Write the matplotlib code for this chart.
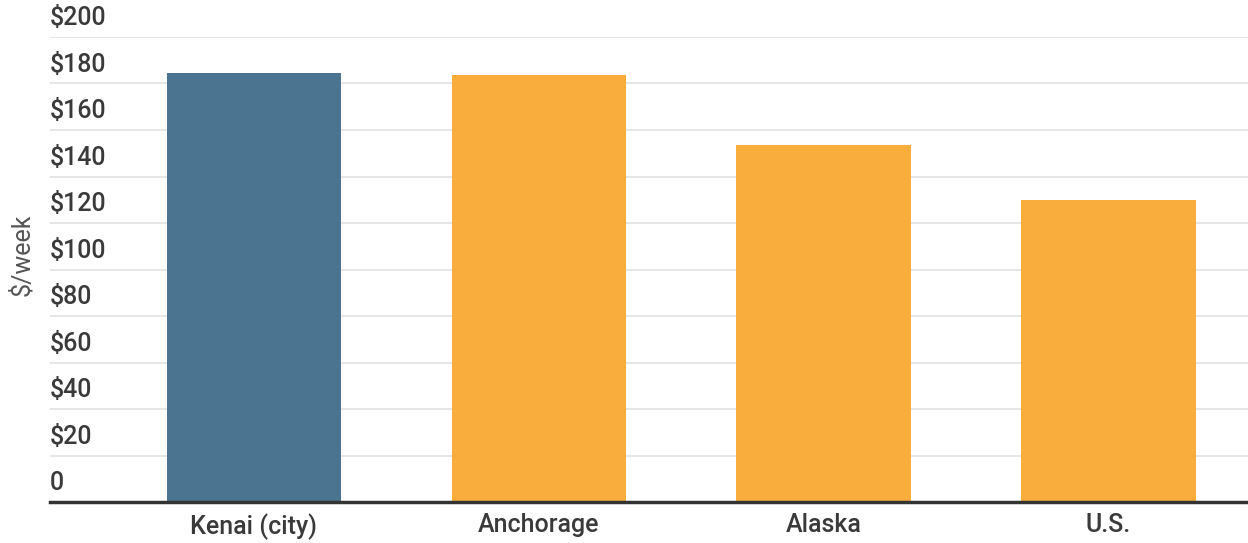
import matplotlib.pyplot as plt

# data
places = ['Kenai (city)', 'Anchorage', 'Alaska', 'U.S.']
cost = [184.5, 183.8, 153.5, 130.0]
colors = ['#4b7490', '#f8ad3c', '#f8ad3c', '#f8ad3c']
yticks = [0, 20, 40, 60, 80, 100, 120, 140, 160, 180, 200]

plt.rcParams['font.family'] = ['Roboto', 'DejaVu Sans']

W, H = 1248, 543
fig = plt.figure(figsize=(W / 100, H / 100), dpi=100)
ax = fig.add_axes([50 / W, (H - 502) / H, 1 - 50 / W, (502 - 37) / H])

x = range(len(places))
ax.bar(x, cost, width=0.612, color=colors, zorder=2)

ax.set_xlim(-0.716, 3.49)
ax.set_ylim(0, 200)

# gridlines + labels sitting above them
for v in yticks:
    if v > 0:
        ax.axhline(v, color='#e2e2e2', lw=1.2, zorder=1)
    lab = '0' if v == 0 else f'${v}'
    ax.text(0, v + 3, lab, transform=ax.get_yaxis_transform(), ha='left', va='bottom',
            fontsize=18, fontweight='medium', color='#3a3a3a', zorder=3)

ax.axhline(0, color='#333333', lw=2.5, zorder=3, clip_on=False)

for s in ax.spines.values():
    s.set_visible(False)
ax.set_yticks([])
ax.set_xticks(list(x))
ax.set_xticklabels(places, fontsize=18, fontweight='medium', color='#3a3a3a')
ax.tick_params(axis='x', length=0, pad=8)

fig.text(22 / W, 1 - 255 / H, '$/week', rotation=90, ha='center', va='center',
         fontsize=18, color='#555555')

fig.savefig('out.png', dpi=100)
